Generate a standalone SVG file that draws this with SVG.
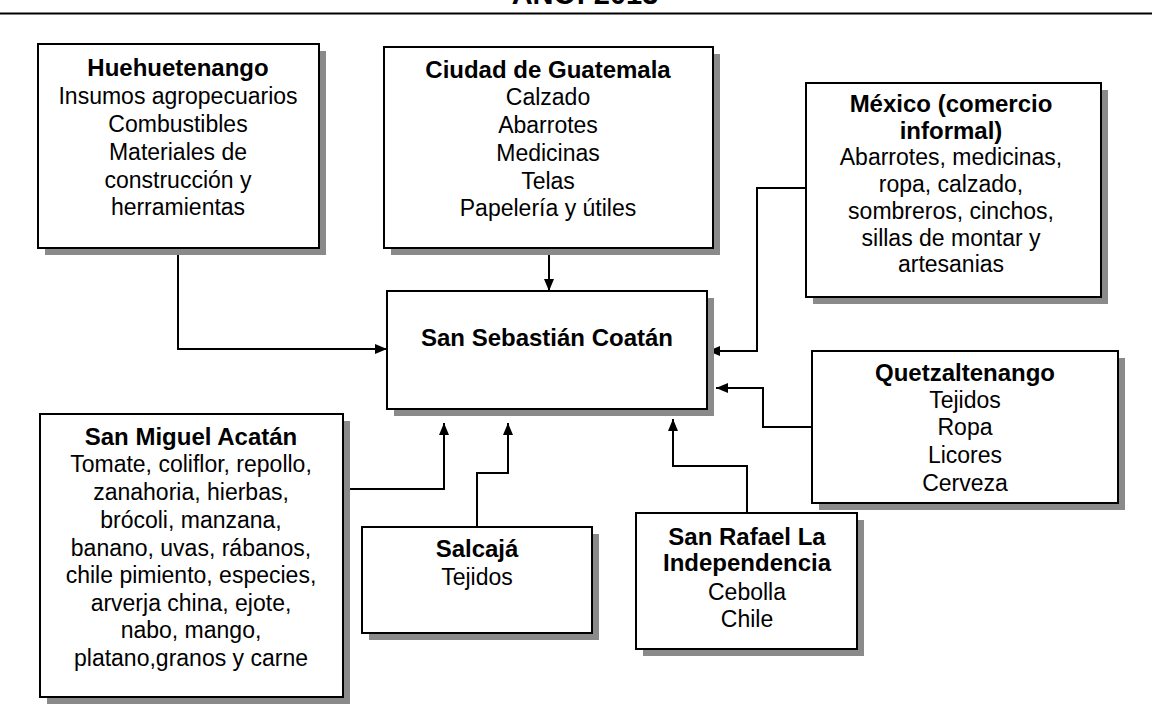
<svg xmlns="http://www.w3.org/2000/svg" width="1152" height="713" viewBox="0 0 1152 713">
<defs>
<style>
.box{fill:#fff;stroke:#000;stroke-width:2}
.sh{fill:#8a8a8a}
.t{font-family:"Liberation Sans",Arial,sans-serif;font-size:23px;text-anchor:middle;fill:#000}
.b{font-weight:bold;font-size:24px}
.c{fill:none;stroke:#000;stroke-width:2}
</style>
<marker id="ar" viewBox="0 0 12 10" markerWidth="12" markerHeight="10" refX="12" refY="5" orient="auto" markerUnits="userSpaceOnUse">
<path d="M0,0 L12,5 L0,10 z" fill="#000"/>
</marker>
</defs>
<rect width="1152" height="713" fill="#fff"/>
<text x="585" y="4" class="t b" style="font-size:29px">AÑO: 2013</text>
<line x1="0" y1="13.5" x2="1152" y2="13.5" stroke="#000" stroke-width="2"/>

<g id="connectors">
<path class="c" d="M178,248 V349 H387" marker-end="url(#ar)"/>
<path class="c" d="M549,248 V291" marker-end="url(#ar)"/>
<path class="c" d="M806,188 H757 V351 H708" marker-end="url(#ar)"/>
<path class="c" d="M812,427 H763 V388 H716" marker-end="url(#ar)"/>
<path class="c" d="M343,489 H444 V423" marker-end="url(#ar)"/>
<path class="c" d="M477,527 V473 H508 V423" marker-end="url(#ar)"/>
<path class="c" d="M747,513 V466 H673 V419" marker-end="url(#ar)"/>
</g>

<g id="huehuetenango">
<rect class="sh" x="45" y="51" width="281" height="204"/>
<rect class="box" x="38" y="44" width="281" height="204"/>
<text class="t b" x="178" y="76">Huehuetenango</text>
<text class="t" x="178" y="104">Insumos agropecuarios</text>
<text class="t" x="178" y="132">Combustibles</text>
<text class="t" x="178" y="160">Materiales de</text>
<text class="t" x="178" y="188">construcción y</text>
<text class="t" x="178" y="215">herramientas</text>
</g>

<g id="ciudad-guatemala">
<rect class="sh" x="391" y="54" width="329" height="201"/>
<rect class="box" x="384" y="47" width="329" height="201"/>
<text class="t b" x="548" y="78">Ciudad de Guatemala</text>
<text class="t" x="548" y="105">Calzado</text>
<text class="t" x="548" y="133">Abarrotes</text>
<text class="t" x="548" y="161">Medicinas</text>
<text class="t" x="548" y="189">Telas</text>
<text class="t" x="548" y="216">Papelería y útiles</text>
</g>

<g id="mexico">
<rect class="sh" x="813" y="90" width="295" height="214"/>
<rect class="box" x="806" y="83" width="295" height="214"/>
<text class="t b" x="951" y="112">México (comercio</text>
<text class="t b" x="951" y="139">informal)</text>
<text class="t" x="951" y="165">Abarrotes, medicinas,</text>
<text class="t" x="951" y="192">ropa, calzado,</text>
<text class="t" x="951" y="219">sombreros, cinchos,</text>
<text class="t" x="951" y="246">sillas de montar y</text>
<text class="t" x="951" y="272">artesanias</text>
</g>

<g id="san-sebastian-coatan">
<rect class="sh" x="394" y="298" width="320" height="118"/>
<rect class="box" x="387" y="291" width="320" height="118"/>
<text class="t b" x="547" y="346">San Sebastián Coatán</text>
</g>

<g id="quetzaltenango">
<rect class="sh" x="819" y="358" width="306" height="152"/>
<rect class="box" x="812" y="351" width="306" height="152"/>
<text class="t b" x="965" y="381">Quetzaltenango</text>
<text class="t" x="965" y="408">Tejidos</text>
<text class="t" x="965" y="435">Ropa</text>
<text class="t" x="965" y="463">Licores</text>
<text class="t" x="965" y="491">Cerveza</text>
</g>

<g id="san-miguel-acatan">
<rect class="sh" x="47" y="421" width="303" height="283"/>
<rect class="box" x="40" y="414" width="303" height="283"/>
<text class="t b" x="191" y="445">San Miguel Acatán</text>
<text class="t" x="191" y="472">Tomate, coliflor, repollo,</text>
<text class="t" x="191" y="500">zanahoria, hierbas,</text>
<text class="t" x="191" y="528">brócoli, manzana,</text>
<text class="t" x="191" y="556">banano, uvas, rábanos,</text>
<text class="t" x="191" y="583">chile pimiento, especies,</text>
<text class="t" x="191" y="611">arverja china, ejote,</text>
<text class="t" x="191" y="638">nabo, mango,</text>
<text class="t" x="191" y="666">platano,granos y carne</text>
</g>

<g id="salcaja">
<rect class="sh" x="369" y="534" width="230" height="106"/>
<rect class="box" x="362" y="527" width="230" height="106"/>
<text class="t b" x="477" y="557">Salcajá</text>
<text class="t" x="477" y="585">Tejidos</text>
</g>

<g id="san-rafael">
<rect class="sh" x="643" y="520" width="221" height="136"/>
<rect class="box" x="636" y="513" width="221" height="136"/>
<text class="t b" x="747" y="545">San Rafael La</text>
<text class="t b" x="747" y="571">Independencia</text>
<text class="t" x="747" y="600">Cebolla</text>
<text class="t" x="747" y="627">Chile</text>
</g>
</svg>
